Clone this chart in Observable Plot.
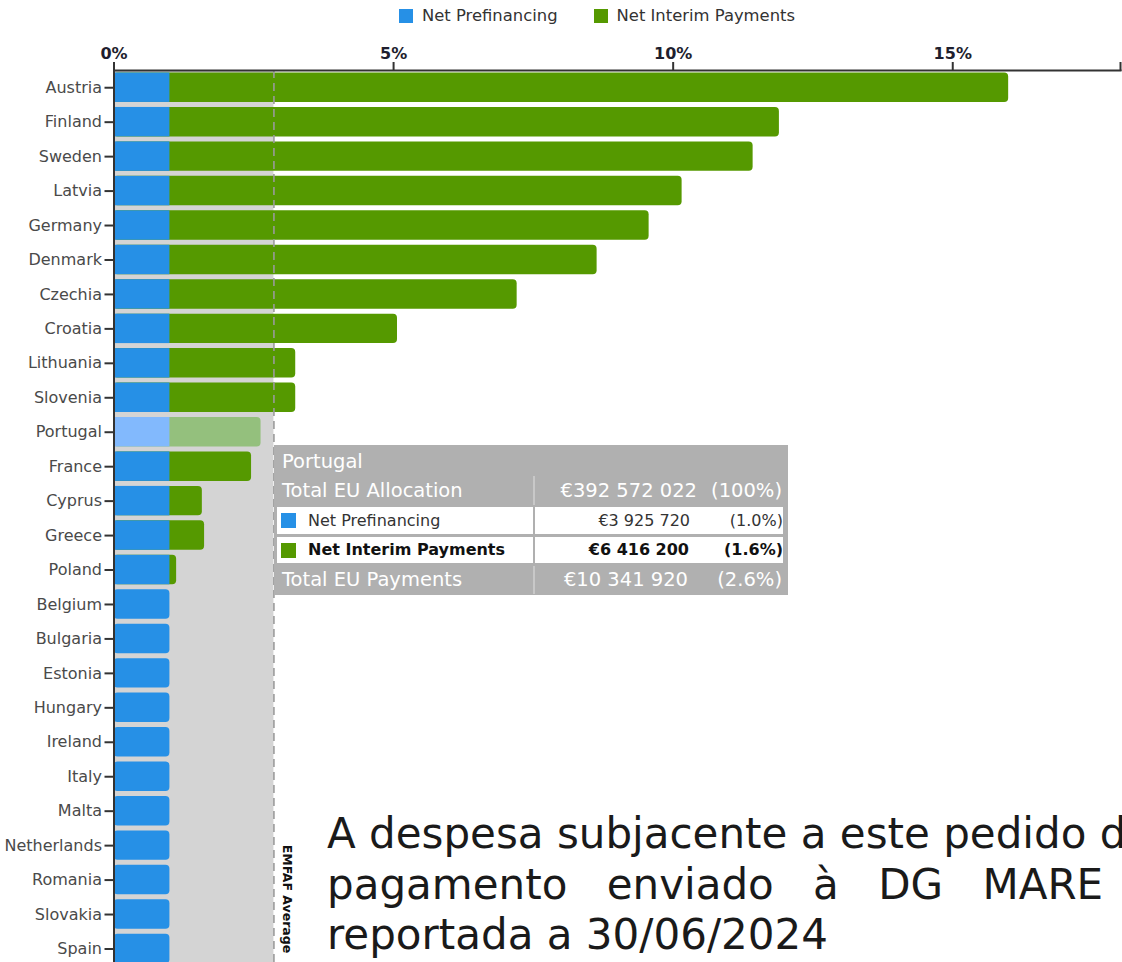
<!DOCTYPE html>
<html>
<head>
<meta charset="utf-8">
<script src="https://cdn.jsdelivr.net/npm/d3@7"></script>
<script src="https://cdn.jsdelivr.net/npm/@observablehq/plot@0.6"></script>
<style>
html, body { margin:0; padding:0; width:1122px; height:962px; overflow:hidden; background:#fff; font-family:"DejaVu Sans", Verdana, sans-serif; }
#chart { position:absolute; left:0; top:0; }
#legend { position:absolute; top:6px; left:399px; display:flex; align-items:center; font-size:16.4px; color:#333; white-space:nowrap; }
#legend .item { display:flex; align-items:center; margin-right:36px; }
#legend .sw { display:inline-block; width:14px; height:14px; margin-right:9px; }
#tip { position:absolute; left:274px; top:445px; width:514px; height:150px; background:#b0b0b0; font-family:"DejaVu Sans", Verdana, sans-serif; }
#tip .row { position:absolute; left:0; width:514px; white-space:nowrap; }
#tip .row span { position:absolute; top:0; }
#tip .gray { color:#fff; font-size:19.5px; }
#tip .white { left:3px; width:506px; background:#fff; font-size:16px; color:#333; }
#tip .div { position:absolute; top:0; width:2px; }
#tip .sq { position:absolute; width:15px; height:15px; }
#note { position:absolute; left:327px; top:809px; font-family:"DejaVu Sans", sans-serif; font-size:42px; line-height:50.5px; color:#1a1a1a; white-space:nowrap; }
</style>
</head>
<body>
<div id="chart"></div>
<div id="legend"></div>
<div id="tip"></div>
<div id="note"></div>
<script>
// ---- data ----
const countries = ["Austria","Finland","Sweden","Latvia","Germany","Denmark","Czechia","Croatia","Lithuania","Slovenia","Portugal","France","Cyprus","Greece","Poland","Belgium","Bulgaria","Estonia","Hungary","Ireland","Italy","Malta","Netherlands","Romania","Slovakia","Spain"];
const netPrefinancing = [1.0,1.0,1.0,1.0,1.0,1.0,1.0,1.0,1.0,1.0,1.0,1.0,1.0,1.0,1.0,1.0,1.0,1.0,1.0,1.0,1.0,1.0,1.0,1.0,1.0,1.0];
const netInterimPayments = [15.0,10.9,10.43,9.16,8.57,7.64,6.21,4.07,2.25,2.25,1.63,1.46,0.58,0.62,0.12,0,0,0,0,0,0,0,0,0,0,0];
const emfafAverage = 2.86;
const xTicks = [0, 5, 10, 15];
const xMax = 18;
const seriesNames = ["Net Prefinancing", "Net Interim Payments"];
const highlighted = "Portugal";
const tooltipLabels = ["Total EU Allocation", "Net Prefinancing", "Net Interim Payments", "Total EU Payments"];
const tooltipAmounts = [392572022, 3925720, 6416200, 10341920];
const noteLines = ["A despesa subjacente a este pedido de", "pagamento enviado à DG MARE foi", "reportada a 30/06/2024"];

// ---- colours ----
const blue = "#2690e6", green = "#559900";
const blueHi = "#82b9fd", greenHi = "#94c07d";

const rows = countries.map((c, i) => ({
  country: c,
  pref: netPrefinancing[i],
  interim: netInterimPayments[i],
  total: netPrefinancing[i] + netInterimPayments[i]
}));

const endColor = d => d.interim > 0 ? (d.country === highlighted ? greenHi : green) : (d.country === highlighted ? blueHi : blue);
const prefColor = d => d.country === highlighted ? blueHi : blue;

const plot = Plot.plot({
  width: 1122,
  height: 970,
  marginLeft: 113.5,
  marginRight: 2,
  marginTop: 70,
  marginBottom: 4.3,
  style: { fontFamily: "DejaVu Sans, Verdana, sans-serif", fontSize: "16px", background: "transparent", overflow: "visible" },
  x: { domain: [0, xMax], label: null },
  y: { domain: countries, padding: 0, round: false, label: null },
  marks: [
    Plot.rectX([emfafAverage], { x1: 0, x2: d => d, fill: "#d4d4d4" }),
    Plot.barX(rows, { x1: 0, x2: "total", y: "country", fill: endColor, rx: 4, insetTop: 2.5, insetBottom: 2.5 }),
    Plot.barX(rows.filter(d => d.interim > 0), { x1: 0, x2: "pref", y: "country", fill: prefColor, insetTop: 2.5, insetBottom: 2.5 }),
    Plot.ruleX([emfafAverage], { stroke: "#9a9a9a", strokeWidth: 1.6, strokeDasharray: "8,5" }),
    Plot.text(["EMFAF Average"], { x: emfafAverage, text: d => d, frameAnchor: "bottom", rotate: 90, textAnchor: "end", dx: 9, dy: -13, fontSize: 12.5, fontWeight: "bold", fill: "#111" }),
    Plot.axisX({ anchor: "top", ticks: [...xTicks, xMax], tickFormat: d => xTicks.includes(d) ? d + "%" : "", tickSize: 9, tickPadding: 3, fontSize: 16, fontWeight: "bold", stroke: "#333", strokeWidth: 2, fill: "#1e1e2e" }),
    Plot.axisY({ tickSize: 9, tickPadding: 3, fontSize: 16, stroke: "#333", strokeWidth: 2, fill: "#4a4a4a" }),
    Plot.frame({ anchor: "top", stroke: "#333", strokeWidth: 2 }),
    Plot.frame({ anchor: "left", stroke: "#333", strokeWidth: 2 })
  ]
});
document.getElementById("chart").appendChild(plot);

// ---- legend ----
const legend = document.getElementById("legend");
[blue, green].forEach((c, i) => {
  const it = document.createElement("div");
  it.className = "item";
  it.innerHTML = `<span class="sw" style="background:${c}"></span><span>${seriesNames[i]}</span>`;
  legend.appendChild(it);
});

// ---- tooltip ----
const fmtNum = d3.formatLocale({ decimal: ".", thousands: " ", grouping: [3], currency: ["€", ""] }).format(",");
const alloc = tooltipAmounts[0];
const pct = (v, i) => i === 0 ? "(100%)" : "(" + (v / alloc * 100).toFixed(1) + "%)";
const tip = document.getElementById("tip");
let html = `<div class="row gray" style="top:3px;height:28px;line-height:28px"><span style="left:8px">${highlighted}</span></div>`;
const specs = [
  { cls: "gray", top: 31, h: 29, amtRight: 91, pctRight: 6, div: "#c8c8c8" },
  { cls: "white", top: 62, h: 27, amtRight: 96, pctRight: 3, div: "#b0b0b0", sq: blue },
  { cls: "white", top: 92, h: 26, amtRight: 97, pctRight: 3, div: "#b0b0b0", sq: green, bold: true },
  { cls: "gray", top: 121, h: 28, amtRight: 100, pctRight: 6, div: "#c8c8c8" }
];
specs.forEach((s, i) => {
  const off = s.cls === "white" ? 3 : 0;
  const style = `top:${s.top}px;height:${s.h}px;line-height:${s.h}px;${s.bold ? "font-weight:bold;color:#111;" : ""}`;
  html += `<div class="row ${s.cls}" style="${style}">`;
  if (s.sq) html += `<span class="sq" style="left:${7 - off}px;top:${(s.h - 15) / 2}px;background:${s.sq}"></span>`;
  html += `<span style="left:${(s.sq ? 34 : 8) - off}px">${tooltipLabels[i]}</span>`;
  html += `<span class="div" style="left:${259 - off}px;height:${s.h}px;background:${s.div}"></span>`;
  html += `<span style="right:${s.amtRight - off}px">€${fmtNum(tooltipAmounts[i])}</span>`;
  html += `<span style="right:${s.pctRight - off}px">${pct(tooltipAmounts[i], i)}</span>`;
  html += `</div>`;
});
tip.innerHTML = html;

// ---- note ----
const note = document.getElementById("note");
note.innerHTML = noteLines.map((t, i) => `<div style="${i === 1 ? "word-spacing:26px" : ""}">${t}</div>`).join("");
</script>
</body>
</html>
